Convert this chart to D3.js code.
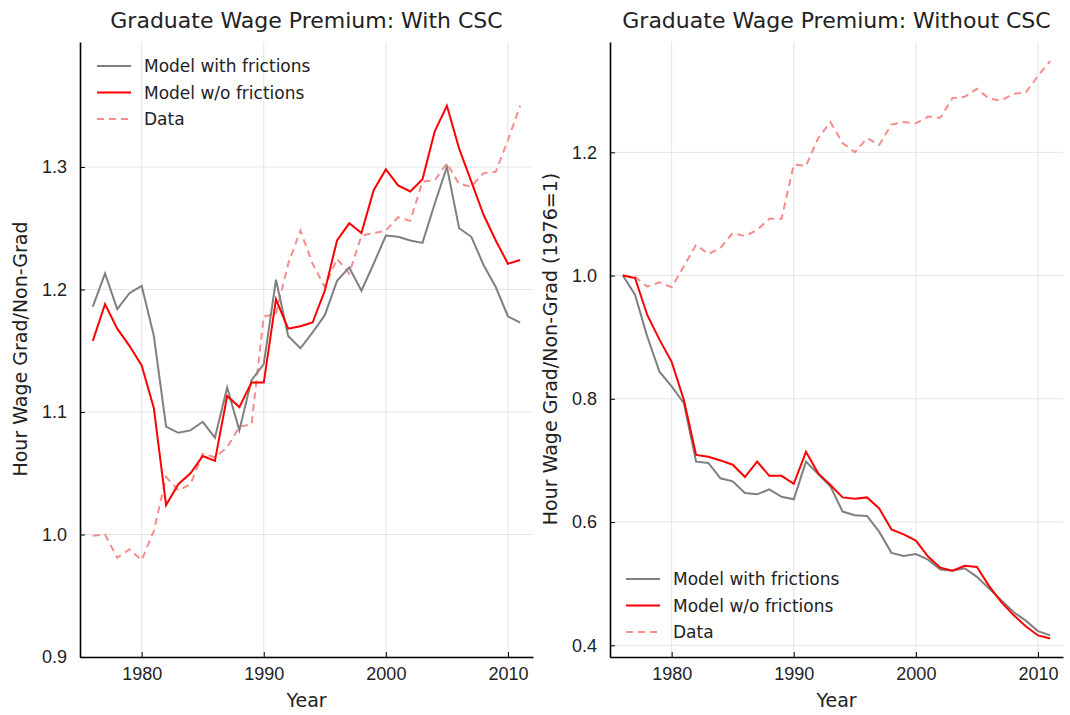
<!DOCTYPE html>
<html>
<head>
<meta charset="utf-8">
<script src="https://cdn.jsdelivr.net/npm/d3@7"></script>
<style>
  body { margin: 0; background: #fff; }
  svg { font-family: "DejaVu Sans", sans-serif; }
  .grid line { stroke: #e4e4e4; stroke-width: 1; }
  .axis path, .axis line { stroke: #000; }
  .axis path { stroke-width: 1.6; }
  .axis text { fill: #222; font-size: 18px; }
</style>
</head>
<body>
<svg width="1070" height="715"></svg>
<script>
// years 1976..2011
years = d3.range(1976, 2012);

// left panel: with CSC
leftFric = [1.186, 1.213, 1.184, 1.197, 1.203, 1.162, 1.088, 1.083, 1.085, 1.092, 1.079, 1.120,
    1.085, 1.126, 1.139, 1.208, 1.162, 1.152, 1.165, 1.179, 1.207, 1.218, 1.199, 1.221,
    1.244, 1.243, 1.240, 1.238, 1.270, 1.300, 1.250, 1.243, 1.220, 1.202, 1.178, 1.173];
leftNoFric = [1.158, 1.188, 1.168, 1.154, 1.138, 1.103, 1.024, 1.041, 1.050, 1.064, 1.060, 1.113,
    1.104, 1.124, 1.124, 1.192, 1.168, 1.170, 1.173, 1.199, 1.240, 1.254, 1.246, 1.281,
    1.298, 1.285, 1.280, 1.290, 1.329, 1.350, 1.315, 1.288, 1.261, 1.240, 1.221, 1.224];
leftData = [0.999, 1.000, 0.981, 0.988, 0.979, 1.003, 1.047, 1.036, 1.041, 1.066, 1.063, 1.071,
    1.088, 1.090, 1.178, 1.180, 1.221, 1.248, 1.221, 1.202, 1.225, 1.213, 1.244, 1.246,
    1.248, 1.259, 1.256, 1.288, 1.289, 1.303, 1.286, 1.284, 1.295, 1.296, 1.322, 1.350];

// right panel: without CSC (1976=1)
rightFric = [1.000, 0.969, 0.901, 0.844, 0.820, 0.793, 0.698, 0.696, 0.671, 0.666, 0.647, 0.645,
    0.653, 0.641, 0.637, 0.698, 0.678, 0.658, 0.617, 0.611, 0.610, 0.584, 0.550, 0.545,
    0.548, 0.539, 0.523, 0.521, 0.525, 0.511, 0.492, 0.473, 0.454, 0.440, 0.423, 0.416];
rightNoFric = [1.000, 0.996, 0.936, 0.896, 0.860, 0.798, 0.709, 0.706, 0.700, 0.693, 0.673, 0.698,
    0.675, 0.675, 0.662, 0.714, 0.679, 0.660, 0.640, 0.638, 0.640, 0.622, 0.588, 0.580,
    0.570, 0.544, 0.526, 0.521, 0.529, 0.527, 0.496, 0.470, 0.449, 0.431, 0.416, 0.411];
rightData = [1.000, 0.998, 0.982, 0.989, 0.981, 1.015, 1.050, 1.035, 1.045, 1.069, 1.064, 1.074,
    1.092, 1.092, 1.180, 1.178, 1.223, 1.249, 1.215, 1.200, 1.223, 1.212, 1.245, 1.249,
    1.247, 1.258, 1.256, 1.288, 1.290, 1.303, 1.287, 1.284, 1.295, 1.297, 1.324, 1.348];

// ticks
xTicks = [1980, 1990, 2000, 2010];
leftYTicks = [0.9, 1.0, 1.1, 1.2, 1.3];
rightYTicks = [0.4, 0.6, 0.8, 1.0, 1.2];

seriesNames = ['Model with frictions', 'Model w/o frictions', 'Data'];
seriesColors = ['#808080', '#ff0000', '#f78c8c'];
seriesDash = [null, null, '7,5'];

svg = d3.select('svg');

function drawPanel(p) {
    xScale = d3.scaleLinear().domain([1974.95, 2012.05]).range([p.left, p.right]);
    yScale = d3.scaleLinear().domain(p.ydom).range([657, 42]);

    g = svg.append('g');

    // grid
    grid = g.append('g').attr('class', 'grid');
    grid.selectAll('.vx').data(xTicks).enter().append('line')
        .attr('x1', (d) => xScale(d)).attr('x2', (d) => xScale(d))
        .attr('y1', 42).attr('y2', 657);
    grid.selectAll('.hy').data(p.yticks).enter().append('line')
        .attr('x1', p.left).attr('x2', p.right)
        .attr('y1', (d) => yScale(d)).attr('y2', (d) => yScale(d));

    // lines
    series = [p.fric, p.nofric, p.data];
    line = d3.line().x((d, i) => xScale(years[i])).y((d) => yScale(d));
    // draw data first, then the two model lines
    [2, 0, 1].forEach((k) => {
        g.append('path')
            .datum(series[k])
            .attr('d', line)
            .attr('fill', 'none')
            .attr('stroke', seriesColors[k])
            .attr('stroke-width', 2)
            .attr('stroke-dasharray', seriesDash[k]);
    });

    // axes
    g.append('g')
        .attr('class', 'axis')
        .attr('transform', 'translate(0,657)')
        .call(d3.axisBottom(xScale).tickValues(xTicks).tickFormat(d3.format('d'))
            .tickSizeInner(-5).tickSizeOuter(0).tickPadding(10));
    g.append('g')
        .attr('class', 'axis')
        .attr('transform', `translate(${p.left},0)`)
        .call(d3.axisLeft(yScale).tickValues(p.yticks).tickFormat(d3.format('.1f'))
            .tickSizeInner(-5).tickSizeOuter(0).tickPadding(13));

    // title & labels
    mid = (p.left + p.right) / 2;
    svg.append('text')
        .attr('x', mid).attr('y', 28)
        .attr('text-anchor', 'middle')
        .attr('fill', '#222')
        .style('font-size', '22px')
        .text(p.title);
    svg.append('text')
        .attr('x', mid).attr('y', 707)
        .attr('text-anchor', 'middle')
        .attr('fill', '#222')
        .style('font-size', '19px')
        .text('Year');
    svg.append('text')
        .attr('transform', `translate(${p.ylabX},349) rotate(-90)`)
        .attr('text-anchor', 'middle')
        .attr('fill', '#222')
        .style('font-size', '19px')
        .text(p.ylabel);

    // legend
    leg = svg.append('g');
    seriesNames.forEach((name, k) => {
        ly = p.legY + k * 26.5;
        leg.append('line')
            .attr('x1', p.legX).attr('x2', p.legX + 34)
            .attr('y1', ly).attr('y2', ly)
            .attr('stroke', seriesColors[k])
            .attr('stroke-width', 2)
            .attr('stroke-dasharray', seriesDash[k]);
        leg.append('text')
            .attr('x', p.legX + 47).attr('y', ly + 6)
            .attr('fill', '#222')
            .style('font-size', '17px')
            .text(name);
    });
}

drawPanel({
    left: 80, right: 533, ydom: [0.9, 1.402], yticks: leftYTicks,
    fric: leftFric, nofric: leftNoFric, data: leftData,
    title: 'Graduate Wage Premium: With CSC',
    ylabel: 'Hour Wage Grad/Non-Grad', ylabX: 27,
    legX: 97, legY: 66
});
drawPanel({
    left: 610, right: 1063, ydom: [0.381, 1.379], yticks: rightYTicks,
    fric: rightFric, nofric: rightNoFric, data: rightData,
    title: 'Graduate Wage Premium: Without CSC',
    ylabel: 'Hour Wage Grad/Non-Grad (1976=1)', ylabX: 557,
    legX: 626, legY: 579
});
</script>
</body>
</html>
